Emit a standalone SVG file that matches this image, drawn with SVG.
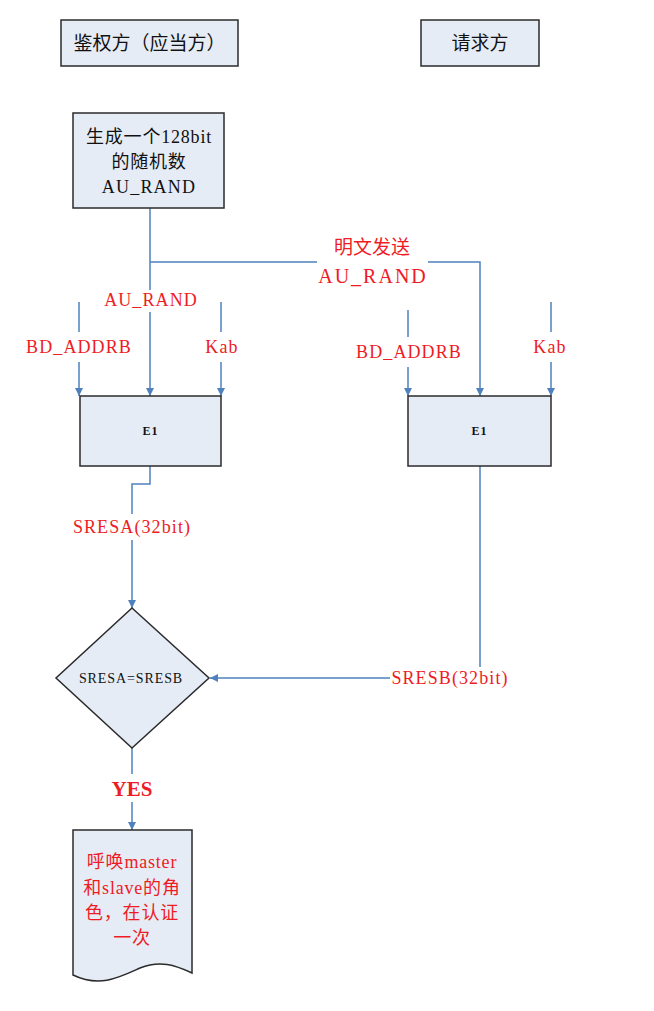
<svg xmlns="http://www.w3.org/2000/svg" width="654" height="1011" viewBox="0 0 654 1011">
<style>
.box{fill:#e6ecf6;stroke:#2b2b2b;stroke-width:1.5}
.ln{fill:none;stroke:#4f81bd;stroke-width:1.5}
.t{font-family:"Liberation Serif","Noto Sans CJK SC",serif;fill:#111}
.r{font-family:"Liberation Serif","Noto Sans CJK SC",serif;fill:#ee1c24}
.lb{font-size:18px;letter-spacing:1.1px}
.h{font-family:"Noto Sans CJK SC",sans-serif;fill:#111;font-size:19px}
</style>
<defs>
<marker id="ar" viewBox="0 0 10 10" refX="10" refY="5" markerWidth="8" markerHeight="8" markerUnits="userSpaceOnUse" orient="auto">
<path d="M0,0 L10,5 L0,10 z" fill="#4f81bd"/>
</marker>
</defs>
<rect width="654" height="1011" fill="#fff"/>
<g id="connectors">
<path class="ln" d="M150,208 V290 M150,312 V396" marker-end="url(#ar)"/>
<path class="ln" d="M150,262 H317 M428,262 H480 V396" marker-end="url(#ar)"/>
<path class="ln" d="M79,302 V332 M79,362 V396" marker-end="url(#ar)"/>
<path class="ln" d="M221,302 V332 M221,362 V396" marker-end="url(#ar)"/>
<path class="ln" d="M408,310 V337 M408,367 V396" marker-end="url(#ar)"/>
<path class="ln" d="M551,302 V332 M551,362 V396" marker-end="url(#ar)"/>
<path class="ln" d="M150,466 V484 H132 V514 M132,540 V608" marker-end="url(#ar)"/>
<path class="ln" d="M480,466 V667 M390,678 H210" marker-end="url(#ar)"/>
<path class="ln" d="M132,748 V774 M132,802 V830" marker-end="url(#ar)"/>
<text class="r" x="372" y="254" font-size="19" text-anchor="middle">明文发送</text>
<text class="r" x="373" y="283" font-size="20" letter-spacing="2" text-anchor="middle">AU_RAND</text>
<text class="r lb" x="151" y="306" text-anchor="middle">AU_RAND</text>
<text class="r lb" x="79" y="353" text-anchor="middle">BD_ADDRB</text>
<text class="r lb" x="222" y="353" text-anchor="middle">Kab</text>
<text class="r lb" x="409" y="358" text-anchor="middle">BD_ADDRB</text>
<text class="r lb" x="550" y="353" text-anchor="middle">Kab</text>
<text class="r lb" x="132" y="533" text-anchor="middle">SRESA(32bit)</text>
<text class="r lb" x="450" y="684" text-anchor="middle">SRESB(32bit)</text>
<text class="r" x="132" y="796" font-size="21" font-weight="bold" text-anchor="middle">YES</text>
</g>
<g id="auth">
<rect class="box" x="61" y="20" width="177" height="46"/>
<text class="h" x="149.5" y="50" text-anchor="middle">鉴权方（应当方）</text>
</g>
<g id="req">
<rect class="box" x="421" y="20" width="118" height="46"/>
<text class="h" x="480" y="50" text-anchor="middle">请求方</text>
</g>
<g id="gen">
<rect class="box" x="73" y="113" width="151" height="95"/>
<text class="t" x="149" y="143" font-size="18" letter-spacing="0.8" text-anchor="middle">生成一个128bit</text>
<text class="t" x="149" y="168" font-size="18" letter-spacing="0.8" text-anchor="middle">的随机数</text>
<text class="t" x="149" y="193" font-size="18" letter-spacing="1.2" text-anchor="middle">AU_RAND</text>
</g>
<g id="e1a">
<rect class="box" x="80" y="396" width="141" height="70"/>
<text class="t" x="150.5" y="435" font-size="12" font-weight="bold" letter-spacing="1" text-anchor="middle">E1</text>
</g>
<g id="e1b">
<rect class="box" x="408" y="396" width="143" height="70"/>
<text class="t" x="479.5" y="435" font-size="12" font-weight="bold" letter-spacing="1" text-anchor="middle">E1</text>
</g>
<g id="cmp">
<path class="box" d="M132,608 L209,678 L132,748 L56,678 Z" stroke-width="1.2"/>
<text class="t" x="131" y="683" font-size="14" letter-spacing="0.9" text-anchor="middle">SRESA=SRESB</text>
</g>
<g id="doc">
<path class="box" d="M73,830 H192 V973 C175,965 160,960 140,968 C120,977 100,988 73,975 Z"/>
<text class="r" x="132" y="868" font-size="18" letter-spacing="0.8" text-anchor="middle">呼唤master</text>
<text class="r" x="132" y="894" font-size="18" letter-spacing="0.8" text-anchor="middle">和slave的角</text>
<text class="r" x="132" y="919" font-size="18" letter-spacing="0.8" text-anchor="middle">色，在认证</text>
<text class="r" x="132" y="944" font-size="18" letter-spacing="0.8" text-anchor="middle">一次</text>
</g>
</svg>
